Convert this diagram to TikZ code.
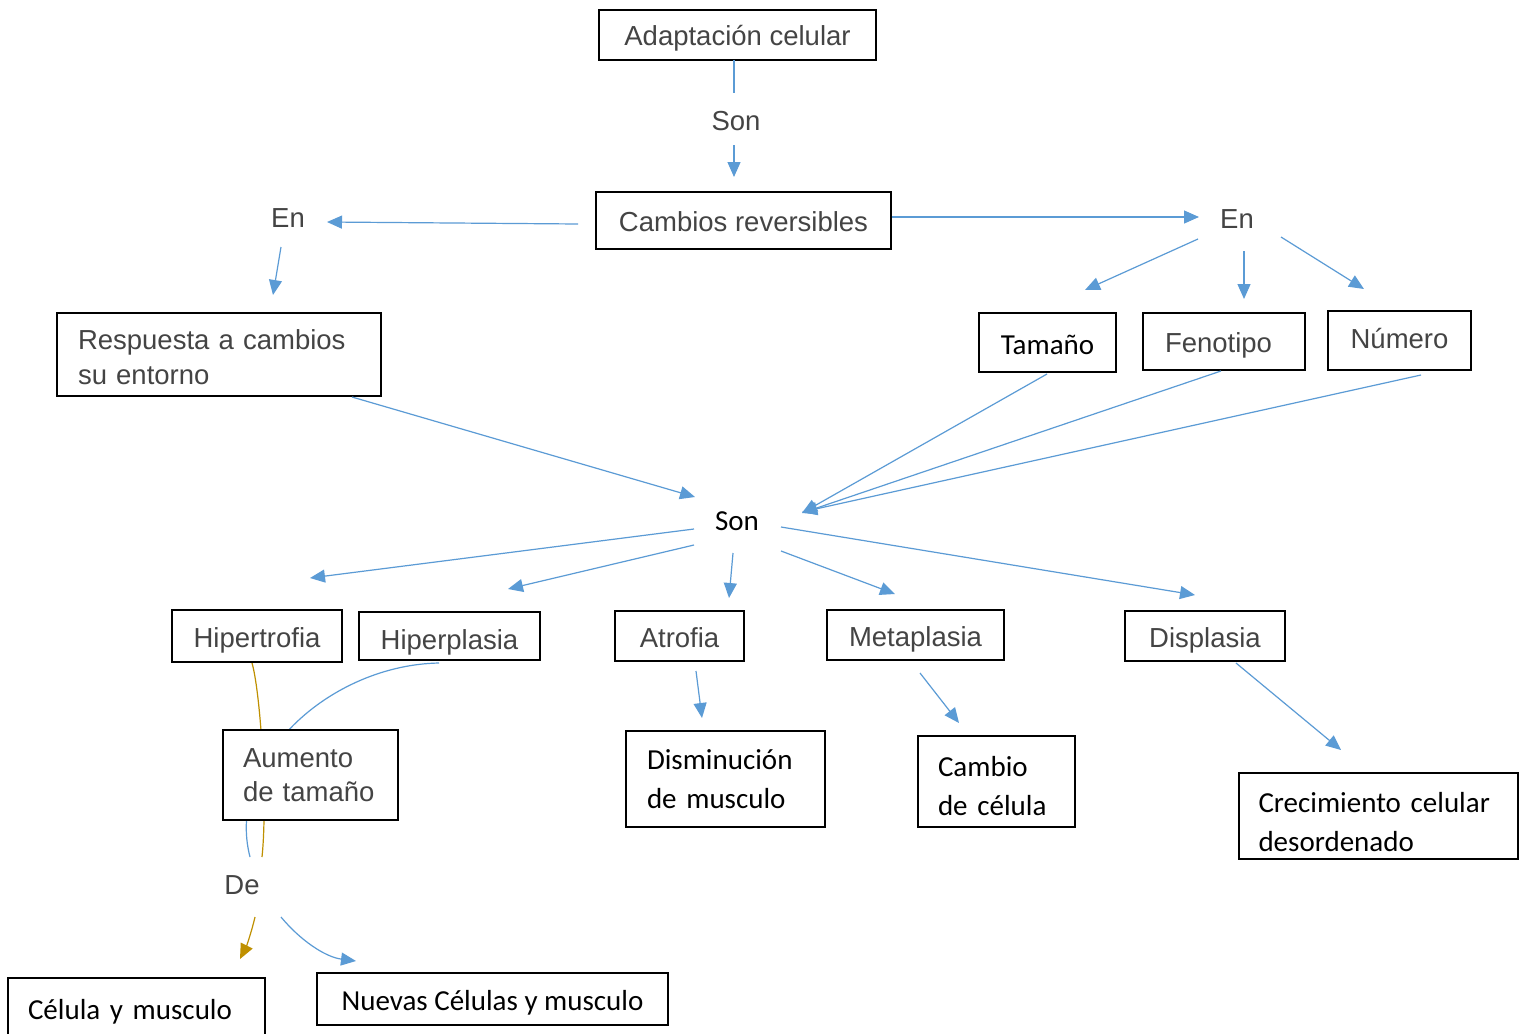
\documentclass[tikz,border=0pt]{standalone}
\usepackage{fontspec}
\setmainfont{Liberation Sans}
\newfontfamily\calib{Carlito}
\usetikzlibrary{arrows.meta}
\definecolor{arrowblue}{HTML}{5B9BD5}
\definecolor{txtgray}{HTML}{444444}
\definecolor{gold}{HTML}{BF9000}
\begin{document}
\begin{tikzpicture}[x=1pt,y=-1pt,
  ar/.style={font=\fontsize{27.5}{34.5}\selectfont, text=txtgray},
  ca/.style={font=\calib\fontsize{29}{39}\selectfont, text=black},
  box/.style={draw=black, line width=1.8pt, fill=white, inner sep=0pt},
  onear/.style={box, ar, text height=23pt, text depth=1pt},
  oneca/.style={box, ca, text height=24pt, text depth=1pt},
  conn/.style={draw=arrowblue, line width=1.2pt},
  arr/.style={conn, -{Triangle[length=15pt,width=13pt]}},
  goldarr/.style={draw=gold, line width=1.2pt, -{Triangle[length=15pt,width=13pt]}},
]
\useasboundingbox (0,0) rectangle (1525,1033);
\fill[white] (0,0) rectangle (1525,1033);

% coordinates for connector ends
\coordinate (c1a) at (734,60);   \coordinate (c1b) at (734,93);
\coordinate (c2a) at (734,145);  \coordinate (c2b) at (734,177);
\coordinate (c3a) at (578,224);  \coordinate (c3b) at (327,222);
\coordinate (c4b) at (1199,217);
\coordinate (c5a) at (281,247);  \coordinate (c5b) at (273,295);
\coordinate (c6a) at (1198,239); \coordinate (c6b) at (1085,290);
\coordinate (c7a) at (1244,251); \coordinate (c7b) at (1244,299);
\coordinate (c8a) at (1281,237); \coordinate (c8b) at (1364,289);
\coordinate (c9a) at (1047,374); \coordinate (c9b) at (802,513);
\coordinate (c10a) at (1221,371);\coordinate (c10b) at (802,513);
\coordinate (c11a) at (1421,375);\coordinate (c11b) at (802,512);
\coordinate (c12a) at (352,397); \coordinate (c12b) at (695,497);
\coordinate (c13a) at (694,529); \coordinate (c13b) at (310,578);
\coordinate (c14a) at (694,545); \coordinate (c14b) at (508,589);
\coordinate (c15a) at (733,553); \coordinate (c15b) at (729,598);
\coordinate (c16a) at (781,551); \coordinate (c16b) at (895,594);
\coordinate (c17a) at (781,527); \coordinate (c17b) at (1195,595);
\coordinate (c18a) at (696,671); \coordinate (c18b) at (702,718);
\coordinate (c19a) at (920,673); \coordinate (c19b) at (959,723);
\coordinate (c20a) at (1236,663);\coordinate (c20b) at (1341,750);
\coordinate (g1a) at (252,663);  \coordinate (g1b) at (262,857);
\coordinate (g2a) at (255,917);  \coordinate (g2b) at (240,959);
\coordinate (b1a) at (439,663);  \coordinate (b1b) at (250,857);
\coordinate (b2a) at (281,917);  \coordinate (b2b) at (356,961);

% curved connectors (behind the boxes)
\draw[draw=gold, line width=1.2pt] (g1a) .. controls (260,690) and (268,800) .. (g1b);
\draw[conn] (b1a) .. controls (330,665) and (225,760) .. (b1b);

% nodes
\node[onear, minimum width=277pt, minimum height=50pt] (adapt) at (737.5,35) {Adaptación celular};
\node[ar] (son1) at (736,121) {Son};
\node[onear, minimum width=295pt, minimum height=57pt] (camb) at (743.5,220.5) {Cambios reversibles};
\node[ar] (enL) at (288,218) {En};
\node[ar] (enR) at (1237,219) {En};
\node[box, ar, minimum width=324pt, minimum height=83pt, text width=282pt, align=left] (resp) at (219,354.5) {\rule{0pt}{25pt}Respuesta a cambios\\su entorno};
\node[oneca, minimum width=137pt, minimum height=59pt] (tam) at (1047.5,342.5) {Tamaño};
\node[onear, minimum width=162pt, minimum height=57pt, text width=118pt, align=left] (fen) at (1224,341.5) {Fenotipo};
\node[onear, text height=16pt, minimum width=143pt, minimum height=59pt] (num) at (1399.5,340.5) {Número};
\node[ca] (son2) at (737,521) {Son};
\node[onear, minimum width=170pt, minimum height=52pt] (hipt) at (257,636) {Hipertrofia};
\node[onear, text height=27pt, minimum width=181pt, minimum height=48pt] (hipp) at (449.5,636) {Hiperplasia};
\node[onear, minimum width=129pt, minimum height=50pt] (atro) at (679.5,636) {Atrofia};
\node[onear, minimum width=177pt, minimum height=50pt] (meta) at (915.5,635) {Metaplasia};
\node[onear, minimum width=160pt, minimum height=50pt] (disp) at (1205,636) {Displasia};
\node[box, ar, minimum width=175pt, minimum height=90pt, text width=135pt, align=left] (aum) at (310.5,775) {Aumento\\de tamaño};
\node[ar] (de) at (242,885) {De};
\node[oneca, minimum width=257pt, minimum height=60pt, text width=217pt, align=left] (cel) at (136.5,1008) {Célula y musculo};
\node[oneca, minimum width=351pt, minimum height=52pt] (nuev) at (492.5,999) {Nuevas Células y musculo};
\node[box, ca, minimum width=199pt, minimum height=96pt, text width=157pt, align=left] (dism) at (725.5,779) {Disminución\\de musculo};
\node[box, ca, minimum width=157pt, minimum height=91pt, text width=117pt, align=left] (cambc) at (996.5,781.5) {\rule{0pt}{28.5pt}Cambio\\de célula};
\node[box, ca, minimum width=279pt, minimum height=86pt, text width=240pt, align=left] (crec) at (1378.5,816) {\rule{0pt}{32.5pt}Crecimiento celular\\desordenado};

% straight connectors
\draw[conn] (c1a) -- (c1b);
\draw[arr] (c2a) -- (c2b);
\draw[arr] (c3a) -- (c3b);
\draw[arr] (camb.east |- c4b) -- (c4b);
\draw[arr] (c5a) -- (c5b);
\draw[arr] (c6a) -- (c6b);
\draw[arr] (c7a) -- (c7b);
\draw[arr] (c8a) -- (c8b);
\draw[arr] (c9a) -- (c9b);
\draw[arr] (c10a) -- (c10b);
\draw[arr] (c11a) -- (c11b);
\draw[arr] (c12a) -- (c12b);
\draw[arr] (c13a) -- (c13b);
\draw[arr] (c14a) -- (c14b);
\draw[arr] (c15a) -- (c15b);
\draw[arr] (c16a) -- (c16b);
\draw[arr] (c17a) -- (c17b);
\draw[arr] (c18a) -- (c18b);
\draw[arr] (c19a) -- (c19b);
\draw[arr] (c20a) -- (c20b);
\draw[goldarr] (g2a) .. controls (252,930) and (247,945) .. (g2b);
\draw[arr] (b2a) .. controls (300,940) and (325,957) .. (b2b);
\end{tikzpicture}
\end{document}
